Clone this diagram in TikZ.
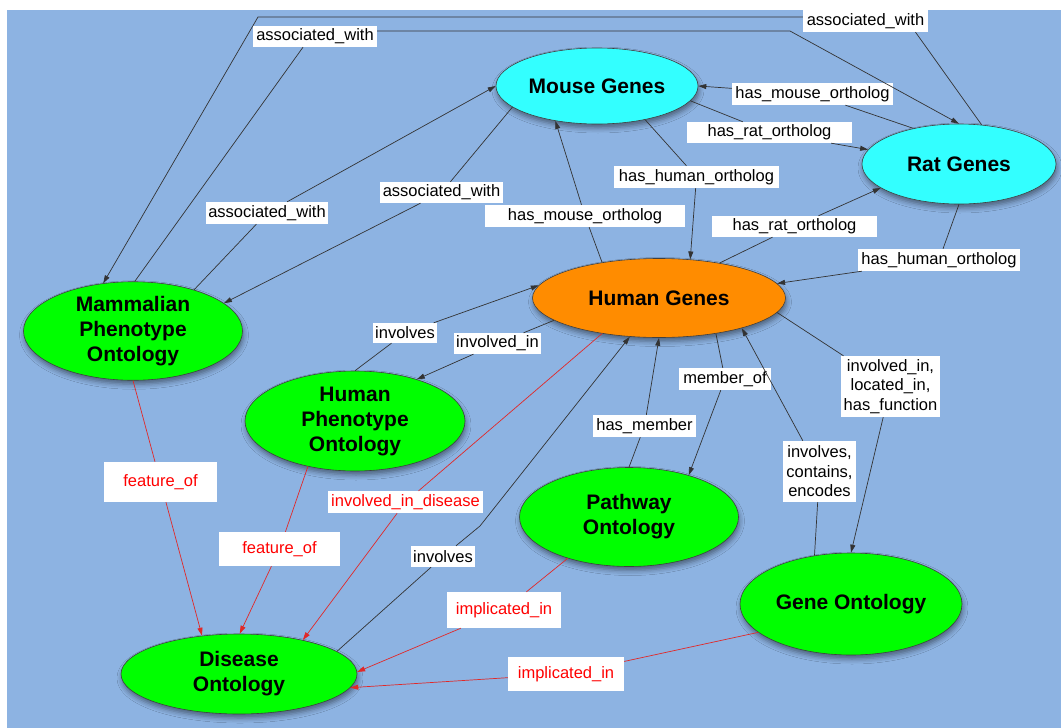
\documentclass[tikz,border=0pt]{standalone}
\usepackage{fontspec}
\setmainfont{Liberation Sans}
\usetikzlibrary{shapes.geometric,arrows.meta,shadows.blur}

\definecolor{bgblue}{RGB}{141,179,226}
\definecolor{genecyan}{RGB}{51,255,255}
\definecolor{geneorange}{RGB}{255,140,0}
\definecolor{ontgreen}{RGB}{0,255,0}
\definecolor{relred}{RGB}{225,40,40}

\begin{document}
\begin{tikzpicture}[x=1pt,y=-1pt]
\tikzstyle{arrow} = [->,>={Triangle[length=8pt,width=5pt]},line width=0.7pt,draw=black!80]
\tikzstyle{redarrow} = [arrow,draw=relred]
\tikzstyle{term} = [ellipse,draw=black!75,line width=0.6pt,inner sep=0,align=center,
  font=\fontsize{21}{25}\selectfont\bfseries,
  blur shadow={shadow xshift=1pt,shadow yshift=-4pt,shadow blur radius=5pt,shadow opacity=45}]
\tikzstyle{rel} = [fill=white,inner sep=0,align=center,font=\fontsize{16.5}{19.5}\selectfont]
\tikzstyle{redrel} = [rel,text=red]

\useasboundingbox (0,0) rectangle (1061,728);
\fill[white] (0,0) rectangle (1061,728);
\fill[bgblue] (7,10) rectangle (1061,728);

% terms
\node(mouse)[term, fill=genecyan, minimum width=202, minimum height=76] at (597,86) {Mouse Genes};
\node(rat)[term, fill=genecyan, minimum width=194, minimum height=80] at (959,164) {Rat Genes};
\node(human)[term, fill=geneorange, minimum width=253, minimum height=79] at (659,298) {Human Genes};
\node(mpo)[term, fill=ontgreen, minimum width=219, minimum height=98] at (133,331) {Mammalian\\Phenotype\\Ontology};
\node(hpo)[term, fill=ontgreen, minimum width=220, minimum height=100] at (355,421) {Human\\Phenotype\\Ontology};
\node(pw)[term, fill=ontgreen, minimum width=219, minimum height=99] at (629,517) {Pathway\\Ontology};
\node(go)[term, fill=ontgreen, minimum width=222, minimum height=102] at (851,604) {Gene Ontology};
\node(do)[term, fill=ontgreen, minimum width=236, minimum height=80] at (239,674) {Disease\\Ontology};

% relation labels
\node(aw_top)[rel, minimum width=125, minimum height=22] at (865.5,21) {associated\_with};
\node(aw_left)[rel, minimum width=124, minimum height=21] at (315,36.5) {associated\_with};
\node(aw_mid)[rel, minimum width=123, minimum height=21] at (441.5,192.5) {associated\_with};
\node(aw_mpo)[rel, minimum width=122, minimum height=22] at (267,213) {associated\_with};
\node(hmo_top)[rel, minimum width=161, minimum height=22] at (812.5,94) {has\_mouse\_ortholog};
\node(hro_top)[rel, minimum width=165, minimum height=21] at (769.5,132.5) {has\_rat\_ortholog};
\node(hho_mid)[rel, minimum width=165, minimum height=22] at (696.5,177) {has\_human\_ortholog};
\node(hmo_mid)[rel, minimum width=200, minimum height=22] at (585,216) {has\_mouse\_ortholog};
\node(hro_low)[rel, minimum width=165, minimum height=21] at (794.5,226.5) {has\_rat\_ortholog};
\node(hho_right)[rel, minimum width=162, minimum height=22] at (939,260) {has\_human\_ortholog};
\node(inv_hpo)[rel, minimum width=64, minimum height=20] at (405,333) {involves};
\node(invin)[rel, minimum width=87, minimum height=21] at (497.5,343.5) {involved\_in};
\node(memof)[rel, minimum width=92, minimum height=22] at (725,379) {member\_of};
\node(hasmem)[rel, minimum width=103, minimum height=22] at (644.5,426) {has\_member};
\node(ilh)[rel, minimum width=99, minimum height=61] at (890.5,386.5) {involved\_in,\\located\_in,\\has\_function};
\node(ice)[rel, minimum width=73, minimum height=61] at (819.5,471.5) {involves,\\contains,\\encodes};
\node(iid)[redrel, minimum width=155, minimum height=22] at (405.5,502) {involved\_in\_disease};
\node(feat_mpo)[redrel, minimum width=113, minimum height=40] at (160.5,482) {feature\_of};
\node(feat_hpo)[redrel, minimum width=121, minimum height=34] at (279.5,549) {feature\_of};
\node(inv_do)[rel, minimum width=64, minimum height=21] at (443,556.5) {involves};
\node(imp_pw)[redrel, minimum width=114, minimum height=36] at (504,610) {implicated\_in};
\node(imp_go)[redrel, minimum width=116, minimum height=34] at (566,674) {implicated\_in};

\coordinate(t1) at (258,17);
\coordinate(t2) at (790,31);
\coordinate(b1) at (480,526);

% relations
\draw [arrow] (mpo.34) -- (aw_mpo) -- (mouse.west);
\draw [arrow] (mouse.194) -- (aw_mid) -- (mpo.17);
\draw [arrow] (rat.60) -- ([xshift=50pt]aw_top.south) (aw_top.west |- t1) -- (t1) -- (mpo.122);
\draw [arrow] (mpo.88) -- ([xshift=-12pt]aw_left.south) (aw_left.east |- t2) -- (t2) -- (rat.north);
\draw [arrow] (rat.142) -- (hmo_top) -- (mouse.east);
\draw [arrow] (mouse.-9) -- (hro_top) -- (rat.171);
\draw [arrow] (mouse.-35) -- (hho_mid) -- (human.51);
\draw [arrow] (human.148) -- (hmo_mid) -- (mouse.220);
\draw [arrow] (human.30) -- (hro_low) -- (rat.197);
\draw [arrow] (rat.south) -- (hho_right) -- (human.7);
\draw [arrow] (hpo.north) -- (inv_hpo) -- (human.174);
\draw [arrow] (human.192) -- (invin) -- (hpo.34);
\draw [redarrow] (human.212) -- (iid) -- (do.28);
\draw [arrow] (do.13) -- (inv_do) -- (b1) -- (human.233);
\draw [arrow] (pw.north) -- (hasmem) -- (human.south);
\draw [arrow] (human.-32) -- (memof) -- (pw.35);
\draw [arrow] (go.127) -- (ice) -- (human.-20);
\draw [arrow] (human.-7) -- (ilh) -- (go.north);
\draw [redarrow] (mpo.south) -- (feat_mpo) -- (do.134);
\draw [redarrow] (hpo.224) -- (feat_hpo) -- (do.89);
\draw [redarrow] (pw.214) -- (imp_pw) -- (do.1);
\draw [redarrow] (go.197) -- (imp_go) -- (do.-7);
\end{tikzpicture}
\end{document}
